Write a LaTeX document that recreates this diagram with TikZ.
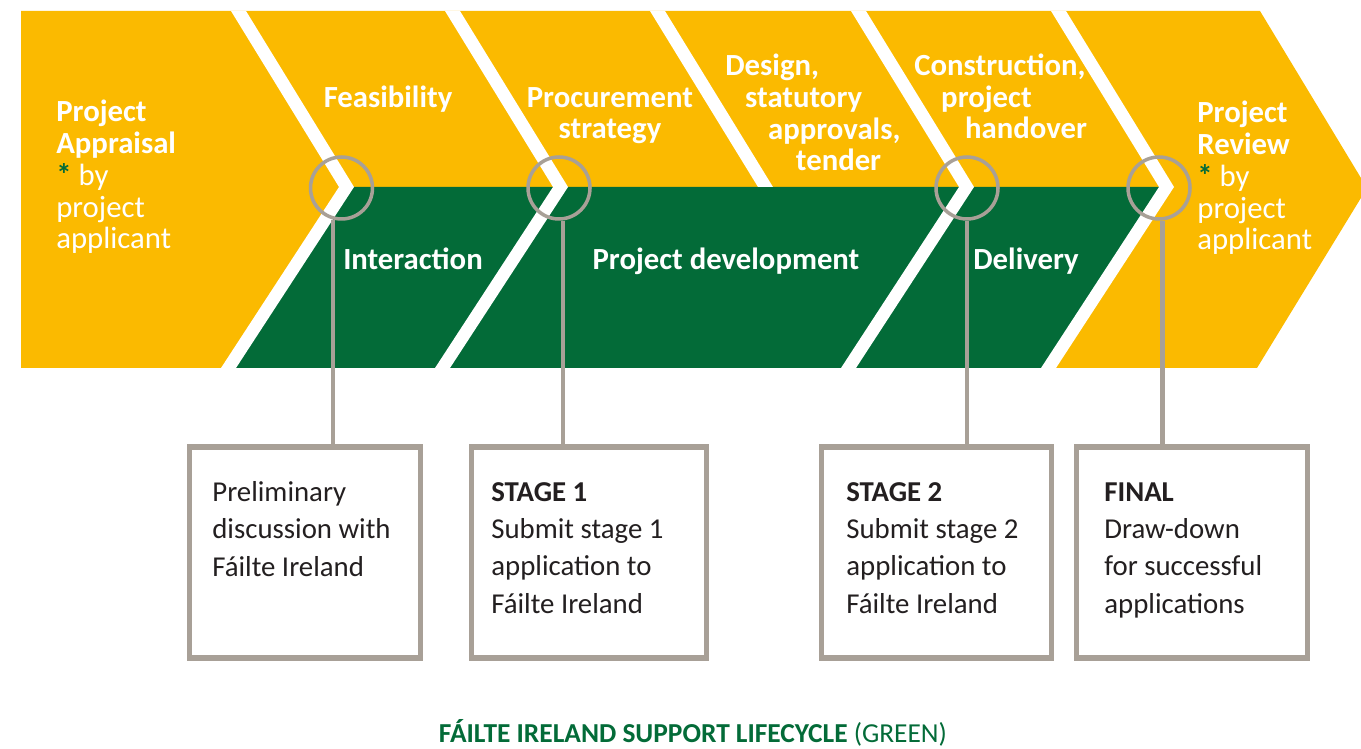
\documentclass[tikz,border=0pt]{standalone}
\usepackage{fontspec}
\setmainfont{Carlito}
\usetikzlibrary{positioning}
\definecolor{failteYellow}{HTML}{FBBA00}
\definecolor{failteGreen}{HTML}{036B38}
\definecolor{failteGrey}{HTML}{A8A097}
\definecolor{failteInk}{HTML}{231F20}

\begin{document}
\begin{tikzpicture}[x=0.02cm, y=-0.02cm,
    lbl/.style={text=white, inner sep=0pt, font=\fontsize{17.5}{18.1}\selectfont\bfseries},
    ring/.style={circle, draw=failteGrey, line width=2pt, minimum size=1.24cm, inner sep=0pt},
    infobox/.style={draw=failteGrey, line width=3pt, fill=white, minimum width=4.61cm, minimum height=4.22cm},
    infotext/.style={anchor=base west, align=left, inner sep=0pt, text=failteInk, font=\fontsize{16.4}{21.1}\selectfont},
    link/.style={draw=failteGrey, line width=2.6pt}]
  \useasboundingbox (0,0) rectangle (1361,749);

  \fill[failteYellow] (21,11) -- (1260,11) -- (1367,188) -- (1257,368) -- (21,368) -- cycle;
  \fill[failteGreen] (346,187) -- (1166,187) -- (1048,368) -- (229,368) -- cycle;
  \fill[white] (650,11) -- ++(15,0) -- (773,187) -- (758,187) -- cycle;
  \foreach \a in {231,445,851,1051}
    \fill[white] (\a,11) -- ++(15,0) -- (\a+123,187) -- (\a+5,368) -- (\a-10,368) -- (\a+108,187) -- cycle;

  % multi-line labels sit on the baseline of their last line
  \node[lbl, anchor=base west, align=left] (pa) at (56,249)
    {Project\\Appraisal\\{\color{failteGreen}*} {\mdseries by}\\{\mdseries project}\\{\mdseries applicant}};
  \node[lbl, anchor=base] (fe) at (388,108) {Feasibility};
  \node[lbl, anchor=base, align=center] (ps) at (610,139) {Procurement\\strategy};
  \node[lbl, anchor=base west, align=left] (ds) at (725,171)
    {Design,\\\hspace*{11.3pt}statutory\\\hspace*{24.4pt}approvals,\\\hspace*{40.2pt}tender};
  \node[lbl, anchor=base west, align=left] (co) at (914,139)
    {Construction,\\\hspace*{15.3pt}project\\\hspace*{28.9pt}handover};
  \node[lbl, anchor=base west, align=left] (pr) at (1197,250)
    {Project\\Review\\{\color{failteGreen}*} {\mdseries by}\\{\mdseries project}\\{\mdseries applicant}};
  \node[lbl, anchor=base] (in) at (413,270) {Interaction};
  \node[lbl, anchor=base] (pd) at (726,270) {Project development};
  \node[lbl, anchor=base] (de) at (1026,270) {Delivery};

  \node[ring] (c1) at (341.5,188) {};
  \node[ring] (c2) at (559,188) {};
  \node[ring] (c3) at (967,188) {};
  \node[ring] (c4) at (1159,188) {};

  \node[infobox] (b1) at (305,552.5) {};
  \node[infobox, minimum width=4.69cm] (b2) at (589,552.5) {};
  \node[infobox] (b3) at (936.5,552.5) {};
  \node[infobox] (b4) at (1192,552.5) {};

  \draw[link] (c1.255) -- (c1.255 |- b1.north);
  \draw[link] (c2.277) -- (c2.277 |- b2.north);
  \draw[link] (c3.270) -- (c3.270 |- b3.north);
  \draw[link] (c4.276) -- (c4.276 |- b4.north);

  \node[infotext] (t1) at (212,576) {Preliminary\\discussion with\\Fáilte Ireland};
  \node[infotext] (t2) at (491,613) {\textbf{STAGE 1}\\Submit stage 1\\application to\\Fáilte Ireland};
  \node[infotext] (t3) at (846,613) {\textbf{STAGE 2}\\Submit stage 2\\application to\\Fáilte Ireland};
  \node[infotext] (t4) at (1104,613) {\textbf{FINAL}\\Draw-down\\for successful\\applications};

  \node[text=failteGreen, font=\fontsize{15.6}{18}\selectfont] (cap) at (693,733)
    {\textbf{FÁILTE IRELAND SUPPORT LIFECYCLE} (GREEN)};
\end{tikzpicture}
\end{document}
